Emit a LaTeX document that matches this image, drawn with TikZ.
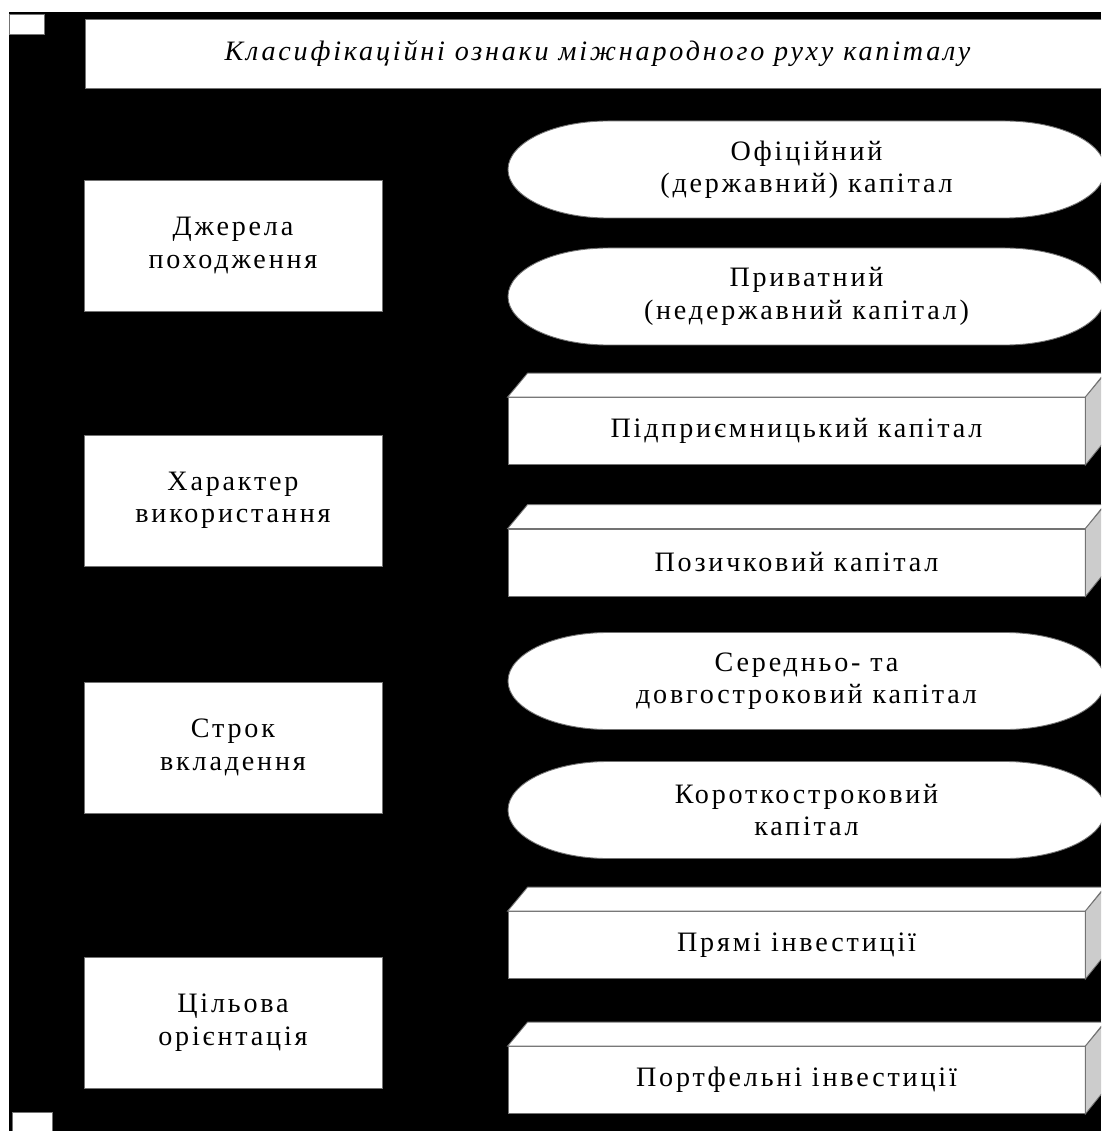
\documentclass[tikz,border=0pt]{standalone}
\usepackage{fontspec}
\setmainfont{Liberation Serif}
\newfontfamily\cyr[LetterSpace=10]{Liberation Serif}

\tikzset{
  ramka/.style={draw=black!55, fill=white, line width=0.5pt},
  tekst/.style={font=\cyr\fontsize{16}{18.5}\selectfont, align=center, inner sep=0pt},
}

\begin{document}
\begin{tikzpicture}[x=0.02cm,y=0.02cm]
\useasboundingbox (0,0) rectangle (1101,-1131);
\clip (0,0) rectangle (1101,-1131);
\fill[black] (9,-12) rectangle (1101,-1131);

\filldraw[ramka] (9,-14) rectangle (44,-34);
\filldraw[ramka] (12,-1112) rectangle (52,-1135);

\node[ramka, tekst, font=\cyr\itshape\fontsize{16}{18.5}\selectfont,
  minimum width=20.5cm, minimum height=1.38cm] (title) at (597.5,-53.5)
  {Класифікаційні ознаки міжнародного руху капіталу};

% ознаки
\foreach \y/\t/\n in {245.5/{Джерела\\походження}/dzherela,
                      500.5/{Характер\\використання}/kharakter,
                      747.5/{Строк\\вкладення}/strok,
                      1022.5/{Цільова\\орієнтація}/orient}
  \node[ramka, tekst, minimum width=5.96cm, minimum height=2.62cm] (\n) at (233,-\y) {\t};

% овали
\foreach \y/\t/\n in {169.5/{Офіційний\\(державний) капітал}/ofits,
                      296.5/{Приватний\\(недержавний капітал)}/pryvat,
                      681/{Середньо- та\\довгостроковий капітал}/serednio,
                      810/{Короткостроковий\\капітал}/korotko}
{
  \draw[ramka] (608,-\y+48.5) -- (1005,-\y+48.5)
    arc[start angle=90, end angle=-90, x radius=100, y radius=48.5]
    -- (608,-\y-48.5)
    arc[start angle=270, end angle=90, x radius=100, y radius=48.5] -- cycle;
  \node[tekst] (\n) at (806.5,-\y) {\t};
}

% бруски
\foreach \y/\t/\n in {431/{Підприємницький капітал}/pidpr,
                      562.5/{Позичковий капітал}/pozych,
                      945/{Прямі інвестиції}/pryami,
                      1080/{Портфельні інвестиції}/portf}
{
  \node[ramka, tekst, minimum width=11.54cm, minimum height=1.34cm] (\n) at (796.5,-\y) {\t};
  \draw[ramka] (\n.north west) -- ++(20,24) -- ++(577,0) -- (\n.north east) -- cycle;
  \draw[ramka, fill=black!20] (\n.north east) -- ++(20,24) -- ++(0,-67) -- (\n.south east) -- cycle;
}
\end{tikzpicture}
\end{document}
